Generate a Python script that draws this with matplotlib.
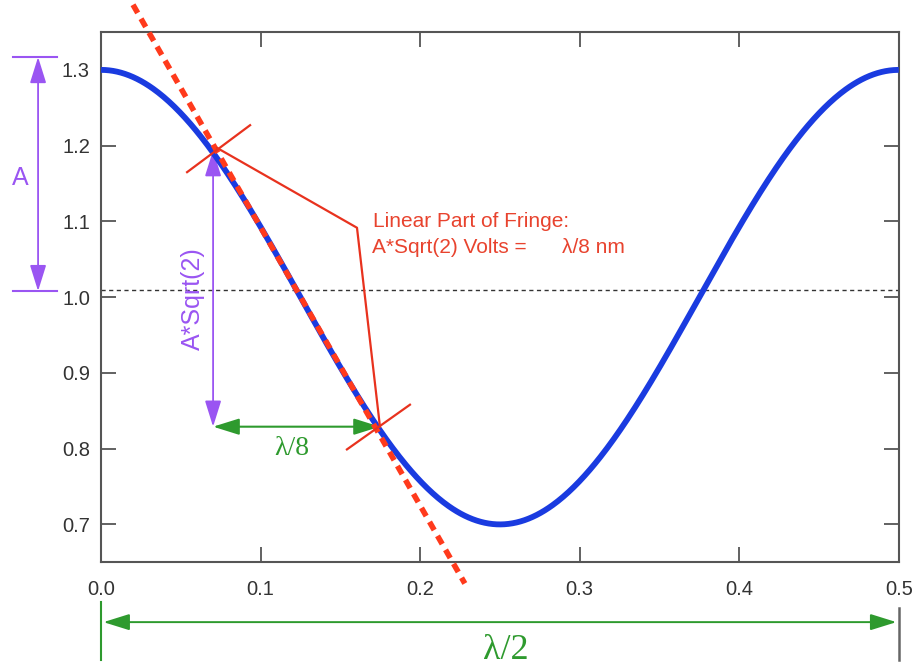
import numpy as np
import matplotlib
matplotlib.use("Agg")
import matplotlib.pyplot as plt

plt.rcParams['font.family'] = ['Liberation Sans', 'DejaVu Sans']

# fringe: offset + amplitude * cos(2*pi*x / period)
offset = 1.0
amplitude = 0.3
period = 0.5
mid_level = 1.01

# tangent (linear part) end points
tangent_x = [0.020, 0.228]
tangent_y = [1.386, 0.622]

# the two marked points on the linear part
pt_x = [0.0727, 0.1748]
pt_y = [1.197, 0.829]

# callout path to the label
callout_x = [0.0727, 0.1604, 0.1748]
callout_y = [1.197, 1.0916, 0.829]

xticks = [0.0, 0.1, 0.2, 0.3, 0.4, 0.5]
yticks = [0.7, 0.8, 0.9, 1.0, 1.1, 1.2, 1.3]

blue = '#1a3be0'
red = '#ff3a1c'
redline = '#e8321e'
redtext = '#e8432e'
purple = '#9a55f2'
green = '#2e9a2e'
serif = ['Liberation Serif', 'DejaVu Serif']
head = '<|-|>,head_length=1.6,head_width=0.5'

fig = plt.figure(figsize=(9.19, 6.67), dpi=100)
ax = fig.add_axes([0.110, 0.157, 0.868, 0.795])

x = np.linspace(0, 0.5, 600)
y = offset + amplitude * np.cos(2 * np.pi * x / period)

ax.axhline(mid_level, color='#333333', lw=1.0, ls=(0, (3, 2.5)), zorder=1)
ax.plot(x, y, color=blue, lw=4.2, zorder=3, solid_capstyle='butt')
ax.plot(tangent_x, tangent_y, color=red, lw=4.0, dashes=[1.7, 1.2],
        clip_on=False, zorder=4)

# little cross marks at the two points
ax.plot([pt_x[0] - 0.0188, pt_x[0] + 0.0207], [pt_y[0] - 0.032, pt_y[0] + 0.030],
        color=redline, lw=1.6, zorder=5)
ax.plot([pt_x[1] - 0.0207, pt_x[1] + 0.0188], [pt_y[1] - 0.030, pt_y[1] + 0.029],
        color=redline, lw=1.6, zorder=5)
ax.plot(callout_x, callout_y, color=redline, lw=1.6, zorder=5)

ax.text(0.1705, 1.0995, 'Linear Part of Fringe:', color=redtext, fontsize=15,
        va='center', ha='left')
ax.text(0.1698, 1.0655, 'A*Sqrt(2) Volts =', color=redtext, fontsize=15,
        va='center', ha='left')
ax.text(0.2889, 1.0655, '\u03bb/8 nm', color=redtext, fontsize=15,
        va='center', ha='left')

# A*Sqrt(2) vertical arrow
ax.annotate('', xy=(0.0702, 1.194), xytext=(0.0702, 0.829),
            arrowprops=dict(arrowstyle=head, color=purple, lw=1.3,
                            mutation_scale=10, shrinkA=0, shrinkB=0), zorder=2)
ax.text(0.0577, 0.998, 'A*Sqrt(2)', color=purple, fontsize=18, rotation=90,
        ha='center', va='center')

# lambda/8 horizontal arrow
ax.annotate('', xy=(0.1748, 0.829), xytext=(0.0702, 0.829),
            arrowprops=dict(arrowstyle=head, color=green, lw=1.5,
                            mutation_scale=10, shrinkA=0, shrinkB=0), zorder=2)
ax.text(0.1197, 0.800, '\u03bb/8', color=green, fontsize=20, ha='center', va='center',
        family=serif)

# amplitude bracket A, left of the axis
for yy in [1.317, 1.008]:
    ax.plot([-0.0551, -0.0276], [yy, yy], color=purple, lw=1.5, clip_on=False)
ax.annotate('', xy=(-0.0395, 1.317), xytext=(-0.0395, 1.008),
            arrowprops=dict(arrowstyle=head, color=purple, lw=1.3,
                            mutation_scale=10, shrinkA=0, shrinkB=0),
            annotation_clip=False)
ax.text(-0.0508, 1.157, 'A', color=purple, fontsize=18, ha='center', va='center')

# lambda/2 arrow under the x axis
ax.plot([0.0, 0.0], [0.521, 0.597], color=green, lw=1.5, clip_on=False)
ax.plot([0.5, 0.5], [0.521, 0.589], color='#666666', lw=1.8, clip_on=False)
ax.annotate('', xy=(0.4985, 0.571), xytext=(0.0015, 0.571),
            arrowprops=dict(arrowstyle=head, color=green, lw=1.4,
                            mutation_scale=10, shrinkA=0, shrinkB=0),
            annotation_clip=False)
ax.text(0.2537, 0.533, '\u03bb/2', color=green, fontsize=26, ha='center', va='center',
        family=serif)

ax.set_xlim(0, 0.5)
ax.set_ylim(0.65, 1.35)
ax.set_xticks(xticks)
ax.set_yticks(yticks)
ax.set_xticklabels(['%.1f' % v for v in xticks])
ax.set_yticklabels(['%.1f' % v for v in yticks])
ax.tick_params(direction='in', length=11, width=1.3, color='#555555',
               labelcolor='#333333', labelsize=14.5, top=True, right=True)
ax.tick_params(axis='x', pad=13)
ax.tick_params(axis='y', pad=8)
for s in ax.spines.values():
    s.set_color('#555555')
    s.set_linewidth(1.5)

fig.savefig('out.png', dpi=100)
